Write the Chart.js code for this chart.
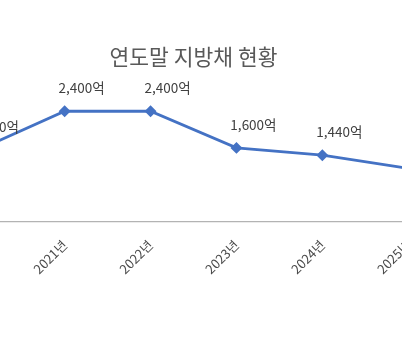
<!DOCTYPE html>
<html lang="ko">
<head>
<meta charset="utf-8">
<script src="https://cdn.jsdelivr.net/npm/chart.js@4.4.1/dist/chart.umd.min.js"></script>
<style>
  html, body { margin: 0; padding: 0; background: #ffffff; overflow: hidden; }
  #view { position: relative; width: 402px; height: 350px; overflow: hidden; background: #ffffff; }
  #wrap { position: absolute; left: -71px; top: 0; width: 529px; height: 350px; }
</style>
</head>
<body>
<div id="view">
  <div id="wrap"><canvas id="chart"></canvas></div>
</div>
<script>
// 연도말 지방채 잔액 (억 원)
const years = ['2020년', '2021년', '2022년', '2023년', '2024년', '2025년'];
const debt = [1560, 2400, 2400, 1600, 1440, 1150];
const unit = '억';

const FONT = "'Noto Sans CJK KR', 'Noto Sans', sans-serif";

// Value labels drawn above each point
const valueLabels = {
  id: 'valueLabels',
  afterDatasetsDraw(chart) {
    const ctx = chart.ctx;
    const meta = chart.getDatasetMeta(0);
    ctx.save();
    ctx.font = '13.5px ' + FONT;
    ctx.fillStyle = '#404040';
    ctx.textAlign = 'center';
    ctx.textBaseline = 'middle';
    meta.data.forEach((pt, i) => {
      const txt = debt[i].toLocaleString('en-US') + unit;
      ctx.fillText(txt, pt.x + 17, pt.y - 23);
    });
    ctx.restore();
  }
};

new Chart(document.getElementById('chart'), {
  type: 'line',
  data: {
    labels: years,
    datasets: [{
      data: debt,
      borderColor: '#4472C4',
      backgroundColor: '#4472C4',
      borderWidth: 2.8,
      pointStyle: 'rectRot',
      pointRadius: 4,
      pointBackgroundColor: '#4472C4',
      pointBorderColor: '#4472C4',
      tension: 0,
      clip: false
    }]
  },
  options: {
    responsive: true,
    maintainAspectRatio: false,
    animation: false,
    layout: { padding: { left: 0, right: 0, top: 0, bottom: 57 } },
    plugins: {
      legend: { display: false },
      tooltip: { enabled: false },
      title: {
        display: true,
        text: '연도말 지방채 현황',
        color: '#595959',
        font: { family: FONT, size: 21.5, weight: 'normal' },
        padding: { top: 44, bottom: 14 }
      }
    },
    scales: {
      x: {
        offset: true,
        grid: { display: false, drawTicks: false },
        border: { display: true, color: '#b3b3b3', width: 1.2 },
        ticks: {
          color: '#4a4a4a',
          font: { family: FONT, size: 13 },
          minRotation: 45,
          maxRotation: 45,
          padding: 16
        }
      },
      y: {
        display: false,
        min: 0,
        max: 3000
      }
    }
  },
  plugins: [valueLabels]
});
</script>
</body>
</html>
